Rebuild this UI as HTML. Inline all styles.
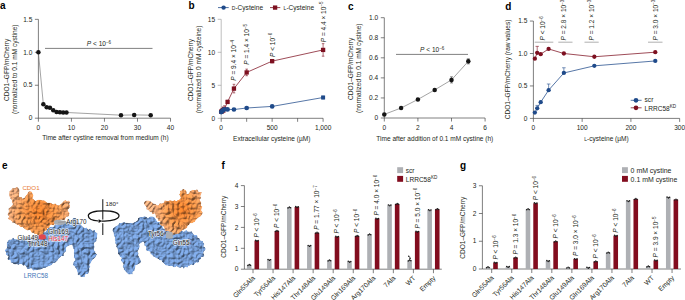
<!DOCTYPE html>
<html><head><meta charset="utf-8"><style>
html,body{margin:0;padding:0;background:#fff;}
svg{display:block;}
text{font-family:"Liberation Sans", sans-serif;}
</style></head><body>
<svg width="685" height="300" viewBox="0 0 685 300">
<rect width="685" height="300" fill="#fff"/>
<text x="0.00" y="9.20" font-size="10.0" text-anchor="start" fill="#000" font-weight="bold" >a</text>
<line x1="38.40" y1="19.35" x2="38.40" y2="118.20" stroke="#3a3a3a" stroke-width="0.65"/>
<line x1="34.90" y1="118.20" x2="38.40" y2="118.20" stroke="#3a3a3a" stroke-width="0.65"/>
<text x="32.30" y="120.40" font-size="6.55" text-anchor="end" fill="#231f20" font-weight="normal" >0</text>
<line x1="34.90" y1="85.25" x2="38.40" y2="85.25" stroke="#3a3a3a" stroke-width="0.65"/>
<text x="32.30" y="87.45" font-size="6.55" text-anchor="end" fill="#231f20" font-weight="normal" >0.5</text>
<line x1="34.90" y1="52.30" x2="38.40" y2="52.30" stroke="#3a3a3a" stroke-width="0.65"/>
<text x="32.30" y="54.50" font-size="6.55" text-anchor="end" fill="#231f20" font-weight="normal" >1.0</text>
<line x1="34.90" y1="19.35" x2="38.40" y2="19.35" stroke="#3a3a3a" stroke-width="0.65"/>
<text x="32.30" y="21.55" font-size="6.55" text-anchor="end" fill="#231f20" font-weight="normal" >1.5</text>
<line x1="38.40" y1="118.20" x2="170.52" y2="118.20" stroke="#3a3a3a" stroke-width="0.65"/>
<line x1="38.40" y1="118.20" x2="38.40" y2="121.70" stroke="#3a3a3a" stroke-width="0.65"/>
<text x="38.40" y="130.20" font-size="6.55" text-anchor="middle" fill="#231f20" font-weight="normal" >0</text>
<line x1="71.43" y1="118.20" x2="71.43" y2="121.70" stroke="#3a3a3a" stroke-width="0.65"/>
<text x="71.43" y="130.20" font-size="6.55" text-anchor="middle" fill="#231f20" font-weight="normal" >10</text>
<line x1="104.46" y1="118.20" x2="104.46" y2="121.70" stroke="#3a3a3a" stroke-width="0.65"/>
<text x="104.46" y="130.20" font-size="6.55" text-anchor="middle" fill="#231f20" font-weight="normal" >20</text>
<line x1="137.49" y1="118.20" x2="137.49" y2="121.70" stroke="#3a3a3a" stroke-width="0.65"/>
<text x="137.49" y="130.20" font-size="6.55" text-anchor="middle" fill="#231f20" font-weight="normal" >30</text>
<line x1="170.52" y1="118.20" x2="170.52" y2="121.70" stroke="#3a3a3a" stroke-width="0.65"/>
<text x="170.52" y="130.20" font-size="6.55" text-anchor="middle" fill="#231f20" font-weight="normal" >40</text>
<text x="105.40" y="140.40" font-size="6.55" text-anchor="middle" fill="#231f20" font-weight="normal" >Time after cystine removal from medium (h)</text>
<text transform="translate(8.60,69.90) rotate(-90)" font-size="6.55" text-anchor="middle" fill="#231f20" >CDO1&#8211;GFP/mCherry</text>
<text transform="translate(17.30,69.30) rotate(-90)" font-size="6.55" text-anchor="middle" fill="#231f20" >(normalized to 0.1 mM cystine)</text>
<polyline points="38.40,52.30 43.35,104.36 46.66,107.33 49.96,107.85 53.26,110.29 56.57,112.01 59.87,112.27 63.17,112.40 66.48,112.47 120.97,115.17 134.19,114.91 150.70,115.17" fill="none" stroke="#666" stroke-width="0.6"/>
<circle cx="38.40" cy="52.30" r="2.25" fill="#151515"/>
<circle cx="43.35" cy="104.36" r="2.25" fill="#151515"/>
<circle cx="46.66" cy="107.33" r="2.25" fill="#151515"/>
<circle cx="49.96" cy="107.85" r="2.25" fill="#151515"/>
<circle cx="53.26" cy="110.29" r="2.25" fill="#151515"/>
<circle cx="56.57" cy="112.01" r="2.25" fill="#151515"/>
<circle cx="59.87" cy="112.27" r="2.25" fill="#151515"/>
<circle cx="63.17" cy="112.40" r="2.25" fill="#151515"/>
<circle cx="66.48" cy="112.47" r="2.25" fill="#151515"/>
<circle cx="120.97" cy="115.17" r="2.25" fill="#151515"/>
<circle cx="134.19" cy="114.91" r="2.25" fill="#151515"/>
<circle cx="150.70" cy="115.17" r="2.25" fill="#151515"/>
<line x1="45.00" y1="48.40" x2="152.50" y2="48.40" stroke="#6a6a6a" stroke-width="0.85"/>
<text x="99.00" y="46.00" font-size="6.55" text-anchor="middle" fill="#231f20" font-weight="normal" ><tspan font-style="italic">P</tspan> &lt; 10<tspan font-size="4.5" dy="-2.3">&#8722;6</tspan></text>
<text x="188.60" y="9.00" font-size="10.0" text-anchor="start" fill="#000" font-weight="bold" >b</text>
<line x1="221.20" y1="19.30" x2="221.20" y2="118.30" stroke="#9a9a9a" stroke-width="0.65"/>
<line x1="217.70" y1="118.30" x2="221.20" y2="118.30" stroke="#9a9a9a" stroke-width="0.65"/>
<text x="215.10" y="120.50" font-size="6.55" text-anchor="end" fill="#231f20" font-weight="normal" >0</text>
<line x1="217.70" y1="85.30" x2="221.20" y2="85.30" stroke="#9a9a9a" stroke-width="0.65"/>
<text x="215.10" y="87.50" font-size="6.55" text-anchor="end" fill="#231f20" font-weight="normal" >5</text>
<line x1="217.70" y1="52.30" x2="221.20" y2="52.30" stroke="#9a9a9a" stroke-width="0.65"/>
<text x="215.10" y="54.50" font-size="6.55" text-anchor="end" fill="#231f20" font-weight="normal" >10</text>
<line x1="217.70" y1="19.30" x2="221.20" y2="19.30" stroke="#9a9a9a" stroke-width="0.65"/>
<text x="215.10" y="21.50" font-size="6.55" text-anchor="end" fill="#231f20" font-weight="normal" >15</text>
<line x1="221.20" y1="118.30" x2="323.10" y2="118.30" stroke="#3a3a3a" stroke-width="0.65"/>
<line x1="221.20" y1="118.30" x2="221.20" y2="121.80" stroke="#3a3a3a" stroke-width="0.65"/>
<text x="221.20" y="130.30" font-size="6.55" text-anchor="middle" fill="#231f20" font-weight="normal" >0</text>
<line x1="246.67" y1="118.30" x2="246.67" y2="121.80" stroke="#3a3a3a" stroke-width="0.65"/>
<line x1="272.15" y1="118.30" x2="272.15" y2="121.80" stroke="#3a3a3a" stroke-width="0.65"/>
<text x="272.15" y="130.30" font-size="6.55" text-anchor="middle" fill="#231f20" font-weight="normal" >500</text>
<line x1="297.62" y1="118.30" x2="297.62" y2="121.80" stroke="#3a3a3a" stroke-width="0.65"/>
<line x1="323.10" y1="118.30" x2="323.10" y2="121.80" stroke="#3a3a3a" stroke-width="0.65"/>
<text x="323.10" y="130.30" font-size="6.55" text-anchor="middle" fill="#231f20" font-weight="normal" >1,000</text>
<text x="271.70" y="140.60" font-size="6.55" text-anchor="middle" fill="#231f20" font-weight="normal" >Extracellular cysteine (&#181;M)</text>
<text transform="translate(193.40,70.00) rotate(-90)" font-size="6.55" text-anchor="middle" fill="#231f20" >CDO1&#8211;GFP/mCherry</text>
<text transform="translate(200.70,69.40) rotate(-90)" font-size="6.55" text-anchor="middle" fill="#231f20" >(normalized to 0 mM cysteine)</text>
<polyline points="221.20,111.70 221.99,111.04 222.79,110.05 224.38,109.06 227.57,101.93 233.94,88.60 246.67,72.43 272.15,61.14 323.10,49.92" fill="none" stroke="#7d1020" stroke-width="0.75"/>
<rect x="219.05" y="109.55" width="4.3" height="4.3" fill="#7d1020"/>
<rect x="219.84" y="108.89" width="4.3" height="4.3" fill="#7d1020"/>
<line x1="222.79" y1="107.08" x2="222.79" y2="113.02" stroke="#7d1020" stroke-width="0.6"/>
<line x1="221.49" y1="107.08" x2="224.09" y2="107.08" stroke="#7d1020" stroke-width="0.6"/>
<line x1="221.49" y1="113.02" x2="224.09" y2="113.02" stroke="#7d1020" stroke-width="0.6"/>
<rect x="220.64" y="107.90" width="4.3" height="4.3" fill="#7d1020"/>
<line x1="224.38" y1="105.76" x2="224.38" y2="112.36" stroke="#7d1020" stroke-width="0.6"/>
<line x1="223.08" y1="105.76" x2="225.68" y2="105.76" stroke="#7d1020" stroke-width="0.6"/>
<line x1="223.08" y1="112.36" x2="225.68" y2="112.36" stroke="#7d1020" stroke-width="0.6"/>
<rect x="222.23" y="106.91" width="4.3" height="4.3" fill="#7d1020"/>
<line x1="227.57" y1="100.28" x2="227.57" y2="103.58" stroke="#7d1020" stroke-width="0.6"/>
<line x1="226.27" y1="100.28" x2="228.87" y2="100.28" stroke="#7d1020" stroke-width="0.6"/>
<line x1="226.27" y1="103.58" x2="228.87" y2="103.58" stroke="#7d1020" stroke-width="0.6"/>
<rect x="225.42" y="99.78" width="4.3" height="4.3" fill="#7d1020"/>
<line x1="233.94" y1="84.31" x2="233.94" y2="92.89" stroke="#7d1020" stroke-width="0.6"/>
<line x1="232.64" y1="84.31" x2="235.24" y2="84.31" stroke="#7d1020" stroke-width="0.6"/>
<line x1="232.64" y1="92.89" x2="235.24" y2="92.89" stroke="#7d1020" stroke-width="0.6"/>
<rect x="231.79" y="86.45" width="4.3" height="4.3" fill="#7d1020"/>
<line x1="246.67" y1="69.13" x2="246.67" y2="75.73" stroke="#7d1020" stroke-width="0.6"/>
<line x1="245.37" y1="69.13" x2="247.97" y2="69.13" stroke="#7d1020" stroke-width="0.6"/>
<line x1="245.37" y1="75.73" x2="247.97" y2="75.73" stroke="#7d1020" stroke-width="0.6"/>
<rect x="244.52" y="70.28" width="4.3" height="4.3" fill="#7d1020"/>
<line x1="272.15" y1="59.49" x2="272.15" y2="62.79" stroke="#7d1020" stroke-width="0.6"/>
<line x1="270.85" y1="59.49" x2="273.45" y2="59.49" stroke="#7d1020" stroke-width="0.6"/>
<line x1="270.85" y1="62.79" x2="273.45" y2="62.79" stroke="#7d1020" stroke-width="0.6"/>
<rect x="270.00" y="58.99" width="4.3" height="4.3" fill="#7d1020"/>
<line x1="323.10" y1="43.65" x2="323.10" y2="56.19" stroke="#7d1020" stroke-width="0.6"/>
<line x1="321.80" y1="43.65" x2="324.40" y2="43.65" stroke="#7d1020" stroke-width="0.6"/>
<line x1="321.80" y1="56.19" x2="324.40" y2="56.19" stroke="#7d1020" stroke-width="0.6"/>
<rect x="320.95" y="47.77" width="4.3" height="4.3" fill="#7d1020"/>
<polyline points="221.20,112.03 221.99,111.37 222.79,110.38 224.38,109.39 227.57,109.39 233.94,109.52 246.67,108.00 272.15,106.42 323.10,97.51" fill="none" stroke="#1f4a8a" stroke-width="0.75"/>
<circle cx="221.20" cy="112.03" r="2.35" fill="#1f4a8a"/>
<circle cx="221.99" cy="111.37" r="2.35" fill="#1f4a8a"/>
<circle cx="222.79" cy="110.38" r="2.35" fill="#1f4a8a"/>
<circle cx="224.38" cy="109.39" r="2.35" fill="#1f4a8a"/>
<circle cx="227.57" cy="109.39" r="2.35" fill="#1f4a8a"/>
<circle cx="233.94" cy="109.52" r="2.35" fill="#1f4a8a"/>
<circle cx="246.67" cy="108.00" r="2.35" fill="#1f4a8a"/>
<circle cx="272.15" cy="106.42" r="2.35" fill="#1f4a8a"/>
<line x1="323.10" y1="96.19" x2="323.10" y2="98.83" stroke="#1f4a8a" stroke-width="0.6"/>
<line x1="321.80" y1="96.19" x2="324.40" y2="96.19" stroke="#1f4a8a" stroke-width="0.6"/>
<line x1="321.80" y1="98.83" x2="324.40" y2="98.83" stroke="#1f4a8a" stroke-width="0.6"/>
<rect x="321.10" y="95.51" width="4.0" height="4.0" fill="#1f4a8a"/>
<line x1="218.00" y1="7.60" x2="228.70" y2="7.60" stroke="#1f4a8a" stroke-width="0.8"/>
<circle cx="223.60" cy="7.60" r="2.2" fill="#1f4a8a"/>
<text x="231.80" y="9.90" font-size="6.55" text-anchor="start" fill="#231f20" font-weight="normal" ><tspan font-size="5">D</tspan>-Cysteine</text>
<line x1="270.00" y1="7.60" x2="280.30" y2="7.60" stroke="#7d1020" stroke-width="0.8"/>
<rect x="272.95" y="5.45" width="4.3" height="4.3" fill="#7d1020"/>
<text x="283.60" y="9.90" font-size="6.55" text-anchor="start" fill="#231f20" font-weight="normal" ><tspan font-size="5">L</tspan>-Cysteine</text>
<text transform="translate(235.90,80.80) rotate(-90)" font-size="6.55" text-anchor="start" fill="#231f20" ><tspan font-style="italic">P</tspan> = 9.4 &#215; 10<tspan font-size="4.5" dy="-2.3">&#8722;4</tspan></text>
<text transform="translate(249.00,64.80) rotate(-90)" font-size="6.55" text-anchor="start" fill="#231f20" ><tspan font-style="italic">P</tspan> = 1.4 &#215; 10<tspan font-size="4.5" dy="-2.3">&#8722;5</tspan></text>
<text transform="translate(274.50,57.00) rotate(-90)" font-size="6.55" text-anchor="start" fill="#231f20" ><tspan font-style="italic">P</tspan> &lt; 10<tspan font-size="4.5" dy="-2.3">&#8722;6</tspan></text>
<text transform="translate(325.60,42.30) rotate(-90)" font-size="6.55" text-anchor="start" fill="#231f20" ><tspan font-style="italic">P</tspan> = 4.4 &#215; 10<tspan font-size="4.5" dy="-2.3">&#8722;5</tspan></text>
<text x="348.10" y="9.70" font-size="10.0" text-anchor="start" fill="#000" font-weight="bold" >c</text>
<line x1="384.30" y1="17.70" x2="384.30" y2="118.00" stroke="#3a3a3a" stroke-width="0.65"/>
<line x1="380.80" y1="118.00" x2="384.30" y2="118.00" stroke="#3a3a3a" stroke-width="0.65"/>
<text x="378.20" y="120.20" font-size="6.55" text-anchor="end" fill="#231f20" font-weight="normal" >0</text>
<line x1="380.80" y1="97.94" x2="384.30" y2="97.94" stroke="#3a3a3a" stroke-width="0.65"/>
<text x="378.20" y="100.14" font-size="6.55" text-anchor="end" fill="#231f20" font-weight="normal" >0.2</text>
<line x1="380.80" y1="77.88" x2="384.30" y2="77.88" stroke="#3a3a3a" stroke-width="0.65"/>
<text x="378.20" y="80.08" font-size="6.55" text-anchor="end" fill="#231f20" font-weight="normal" >0.4</text>
<line x1="380.80" y1="57.82" x2="384.30" y2="57.82" stroke="#3a3a3a" stroke-width="0.65"/>
<text x="378.20" y="60.02" font-size="6.55" text-anchor="end" fill="#231f20" font-weight="normal" >0.6</text>
<line x1="380.80" y1="37.76" x2="384.30" y2="37.76" stroke="#3a3a3a" stroke-width="0.65"/>
<text x="378.20" y="39.96" font-size="6.55" text-anchor="end" fill="#231f20" font-weight="normal" >0.8</text>
<line x1="380.80" y1="17.70" x2="384.30" y2="17.70" stroke="#3a3a3a" stroke-width="0.65"/>
<text x="378.20" y="19.90" font-size="6.55" text-anchor="end" fill="#231f20" font-weight="normal" >1.0</text>
<line x1="384.30" y1="118.00" x2="485.10" y2="118.00" stroke="#3a3a3a" stroke-width="0.65"/>
<line x1="384.30" y1="118.00" x2="384.30" y2="121.50" stroke="#3a3a3a" stroke-width="0.65"/>
<text x="384.30" y="130.00" font-size="6.55" text-anchor="middle" fill="#231f20" font-weight="normal" >0</text>
<line x1="417.90" y1="118.00" x2="417.90" y2="121.50" stroke="#3a3a3a" stroke-width="0.65"/>
<text x="417.90" y="130.00" font-size="6.55" text-anchor="middle" fill="#231f20" font-weight="normal" >2</text>
<line x1="451.50" y1="118.00" x2="451.50" y2="121.50" stroke="#3a3a3a" stroke-width="0.65"/>
<text x="451.50" y="130.00" font-size="6.55" text-anchor="middle" fill="#231f20" font-weight="normal" >4</text>
<line x1="485.10" y1="118.00" x2="485.10" y2="121.50" stroke="#3a3a3a" stroke-width="0.65"/>
<text x="485.10" y="130.00" font-size="6.55" text-anchor="middle" fill="#231f20" font-weight="normal" >6</text>
<text x="434.80" y="140.60" font-size="6.55" text-anchor="middle" fill="#231f20" font-weight="normal" >Time after addition of 0.1 mM cystine (h)</text>
<text transform="translate(353.00,68.90) rotate(-90)" font-size="6.55" text-anchor="middle" fill="#231f20" >CDO1&#8211;GFP/mCherry</text>
<text transform="translate(360.80,68.30) rotate(-90)" font-size="6.55" text-anchor="middle" fill="#231f20" >(normalized to 0.1 mM cystine)</text>
<polyline points="384.30,114.39 401.10,107.97 417.90,99.44 434.70,89.92 451.50,79.89 468.30,61.33" fill="none" stroke="#666" stroke-width="0.6"/>
<line x1="451.50" y1="76.88" x2="451.50" y2="82.90" stroke="#333" stroke-width="0.6"/>
<line x1="450.00" y1="76.88" x2="453.00" y2="76.88" stroke="#333" stroke-width="0.6"/>
<line x1="450.00" y1="82.90" x2="453.00" y2="82.90" stroke="#333" stroke-width="0.6"/>
<line x1="468.30" y1="58.82" x2="468.30" y2="63.84" stroke="#333" stroke-width="0.6"/>
<line x1="466.80" y1="58.82" x2="469.80" y2="58.82" stroke="#333" stroke-width="0.6"/>
<line x1="466.80" y1="63.84" x2="469.80" y2="63.84" stroke="#333" stroke-width="0.6"/>
<circle cx="384.30" cy="114.39" r="2.25" fill="#151515"/>
<circle cx="401.10" cy="107.97" r="2.25" fill="#151515"/>
<circle cx="417.90" cy="99.44" r="2.25" fill="#151515"/>
<circle cx="434.70" cy="89.92" r="2.25" fill="#151515"/>
<circle cx="451.50" cy="79.89" r="2.25" fill="#151515"/>
<circle cx="468.30" cy="61.33" r="2.25" fill="#151515"/>
<line x1="396.00" y1="54.40" x2="468.00" y2="54.40" stroke="#6a6a6a" stroke-width="0.85"/>
<text x="432.20" y="52.00" font-size="6.55" text-anchor="middle" fill="#231f20" font-weight="normal" ><tspan font-style="italic">P</tspan> &lt; 10<tspan font-size="4.5" dy="-2.3">&#8722;6</tspan></text>
<text x="505.20" y="9.70" font-size="10.0" text-anchor="start" fill="#000" font-weight="bold" >d</text>
<line x1="533.40" y1="21.05" x2="533.40" y2="118.40" stroke="#3a3a3a" stroke-width="0.65"/>
<line x1="529.90" y1="118.40" x2="533.40" y2="118.40" stroke="#3a3a3a" stroke-width="0.65"/>
<text x="527.30" y="120.60" font-size="6.55" text-anchor="end" fill="#231f20" font-weight="normal" >0</text>
<line x1="529.90" y1="85.95" x2="533.40" y2="85.95" stroke="#3a3a3a" stroke-width="0.65"/>
<text x="527.30" y="88.15" font-size="6.55" text-anchor="end" fill="#231f20" font-weight="normal" >0.5</text>
<line x1="529.90" y1="53.50" x2="533.40" y2="53.50" stroke="#3a3a3a" stroke-width="0.65"/>
<text x="527.30" y="55.70" font-size="6.55" text-anchor="end" fill="#231f20" font-weight="normal" >1.0</text>
<line x1="529.90" y1="21.05" x2="533.40" y2="21.05" stroke="#3a3a3a" stroke-width="0.65"/>
<text x="527.30" y="23.25" font-size="6.55" text-anchor="end" fill="#231f20" font-weight="normal" >1.5</text>
<line x1="533.40" y1="118.40" x2="679.65" y2="118.40" stroke="#3a3a3a" stroke-width="0.65"/>
<line x1="533.40" y1="118.40" x2="533.40" y2="121.90" stroke="#3a3a3a" stroke-width="0.65"/>
<text x="533.40" y="130.40" font-size="6.55" text-anchor="middle" fill="#231f20" font-weight="normal" >0</text>
<line x1="582.15" y1="118.40" x2="582.15" y2="121.90" stroke="#3a3a3a" stroke-width="0.65"/>
<text x="582.15" y="130.40" font-size="6.55" text-anchor="middle" fill="#231f20" font-weight="normal" >100</text>
<line x1="630.90" y1="118.40" x2="630.90" y2="121.90" stroke="#3a3a3a" stroke-width="0.65"/>
<text x="630.90" y="130.40" font-size="6.55" text-anchor="middle" fill="#231f20" font-weight="normal" >200</text>
<line x1="679.65" y1="118.40" x2="679.65" y2="121.90" stroke="#3a3a3a" stroke-width="0.65"/>
<text x="679.65" y="130.40" font-size="6.55" text-anchor="middle" fill="#231f20" font-weight="normal" >300</text>
<text x="606.50" y="141.20" font-size="6.55" text-anchor="middle" fill="#231f20" font-weight="normal" ><tspan font-size="5">L</tspan>-cysteine (&#181;M)</text>
<text transform="translate(510.00,69.40) rotate(-90)" font-size="6.55" text-anchor="middle" fill="#231f20" >CDO1&#8211;GFP/mCherry (raw values)</text>
<polyline points="534.86,58.69 537.20,52.85 540.71,54.15 548.63,48.96 563.87,53.50 594.34,56.75 655.27,52.20" fill="none" stroke="#7d1020" stroke-width="0.75"/>
<line x1="537.20" y1="46.36" x2="537.20" y2="52.85" stroke="#7d1020" stroke-width="0.6"/>
<line x1="535.50" y1="46.36" x2="538.90" y2="46.36" stroke="#7d1020" stroke-width="0.6"/>
<line x1="535.50" y1="52.85" x2="538.90" y2="52.85" stroke="#7d1020" stroke-width="0.6"/>
<circle cx="534.86" cy="58.69" r="2.15" fill="#7d1020"/>
<circle cx="537.20" cy="52.85" r="2.15" fill="#7d1020"/>
<circle cx="540.71" cy="54.15" r="2.15" fill="#7d1020"/>
<circle cx="548.63" cy="48.96" r="2.15" fill="#7d1020"/>
<circle cx="563.87" cy="53.50" r="2.15" fill="#7d1020"/>
<circle cx="594.34" cy="56.75" r="2.15" fill="#7d1020"/>
<circle cx="655.27" cy="52.20" r="2.15" fill="#7d1020"/>
<polyline points="534.86,112.56 537.20,108.34 540.71,102.18 548.63,90.17 563.87,72.97 594.34,65.83 655.27,60.96" fill="none" stroke="#1f4a8a" stroke-width="0.75"/>
<line x1="537.20" y1="105.42" x2="537.20" y2="108.34" stroke="#1f4a8a" stroke-width="0.6"/>
<line x1="535.50" y1="105.42" x2="538.90" y2="105.42" stroke="#1f4a8a" stroke-width="0.6"/>
<line x1="535.50" y1="108.34" x2="538.90" y2="108.34" stroke="#1f4a8a" stroke-width="0.6"/>
<line x1="548.63" y1="84.00" x2="548.63" y2="90.17" stroke="#1f4a8a" stroke-width="0.6"/>
<line x1="546.83" y1="84.00" x2="550.43" y2="84.00" stroke="#1f4a8a" stroke-width="0.6"/>
<line x1="546.83" y1="90.17" x2="550.43" y2="90.17" stroke="#1f4a8a" stroke-width="0.6"/>
<line x1="563.87" y1="67.78" x2="563.87" y2="72.97" stroke="#1f4a8a" stroke-width="0.6"/>
<line x1="562.07" y1="67.78" x2="565.67" y2="67.78" stroke="#1f4a8a" stroke-width="0.6"/>
<line x1="562.07" y1="72.97" x2="565.67" y2="72.97" stroke="#1f4a8a" stroke-width="0.6"/>
<circle cx="534.86" cy="112.56" r="2.15" fill="#1f4a8a"/>
<circle cx="537.20" cy="108.34" r="2.15" fill="#1f4a8a"/>
<circle cx="540.71" cy="102.18" r="2.15" fill="#1f4a8a"/>
<circle cx="548.63" cy="90.17" r="2.15" fill="#1f4a8a"/>
<circle cx="563.87" cy="72.97" r="2.15" fill="#1f4a8a"/>
<circle cx="594.34" cy="65.83" r="2.15" fill="#1f4a8a"/>
<circle cx="655.27" cy="60.96" r="2.15" fill="#1f4a8a"/>
<line x1="534.70" y1="42.20" x2="553.30" y2="42.20" stroke="#9a9a9a" stroke-width="0.8"/>
<line x1="558.30" y1="42.20" x2="572.50" y2="42.20" stroke="#9a9a9a" stroke-width="0.8"/>
<line x1="584.50" y1="42.20" x2="598.70" y2="42.20" stroke="#9a9a9a" stroke-width="0.8"/>
<line x1="648.00" y1="42.20" x2="662.50" y2="42.20" stroke="#9a9a9a" stroke-width="0.8"/>
<text transform="translate(545.00,40.50) rotate(-90)" font-size="6.55" text-anchor="start" fill="#231f20" ><tspan font-style="italic">P</tspan> &lt; 10<tspan font-size="4.5" dy="-2.3">&#8722;6</tspan></text>
<text transform="translate(566.30,40.50) rotate(-90)" font-size="6.55" text-anchor="start" fill="#231f20" ><tspan font-style="italic">P</tspan> = 2.8 &#215; 10<tspan font-size="4.5" dy="-2.3">&#8722;3</tspan></text>
<text transform="translate(593.70,40.50) rotate(-90)" font-size="6.55" text-anchor="start" fill="#231f20" ><tspan font-style="italic">P</tspan> = 1.2 &#215; 10<tspan font-size="4.5" dy="-2.3">&#8722;3</tspan></text>
<text transform="translate(657.50,40.50) rotate(-90)" font-size="6.55" text-anchor="start" fill="#231f20" ><tspan font-style="italic">P</tspan> = 3.0 &#215; 10<tspan font-size="4.5" dy="-2.3">&#8722;3</tspan></text>
<line x1="630.70" y1="100.30" x2="641.60" y2="100.30" stroke="#1f4a8a" stroke-width="0.75"/>
<circle cx="636.00" cy="100.30" r="2.35" fill="#1f4a8a"/>
<text x="644.60" y="102.20" font-size="6.55" text-anchor="start" fill="#231f20" font-weight="normal" >scr</text>
<line x1="630.70" y1="107.80" x2="641.60" y2="107.80" stroke="#7d1020" stroke-width="0.75"/>
<circle cx="636.00" cy="107.80" r="2.35" fill="#7d1020"/>
<text x="644.60" y="110.60" font-size="6.55" text-anchor="start" fill="#231f20" font-weight="normal" >LRRC58<tspan font-size="4.6" dy="-2.6">KD</tspan></text>
<text x="2.10" y="169.20" font-size="10.0" text-anchor="start" fill="#000" font-weight="bold" >e</text>
<defs>
<filter id="texB" x="-5%" y="-5%" width="110%" height="110%" color-interpolation-filters="sRGB">
 <feTurbulence type="turbulence" baseFrequency="0.2" numOctaves="2" seed="4" result="n"/>
 <feDiffuseLighting in="n" surfaceScale="2.6" diffuseConstant="1.1" lighting-color="#ffffff" result="l"><feDistantLight azimuth="225" elevation="45"/></feDiffuseLighting>
 <feComposite in="SourceGraphic" in2="l" operator="arithmetic" k1="0.62" k2="0.48" k3="0" k4="0" result="c"/>
 <feComposite in="c" in2="SourceAlpha" operator="in"/>
</filter>
<filter id="texO" x="-5%" y="-5%" width="110%" height="110%" color-interpolation-filters="sRGB">
 <feTurbulence type="turbulence" baseFrequency="0.2" numOctaves="2" seed="9" result="n"/>
 <feDiffuseLighting in="n" surfaceScale="2.6" diffuseConstant="1.1" lighting-color="#ffffff" result="l"><feDistantLight azimuth="225" elevation="45"/></feDiffuseLighting>
 <feComposite in="SourceGraphic" in2="l" operator="arithmetic" k1="0.62" k2="0.48" k3="0" k4="0" result="c"/>
 <feComposite in="c" in2="SourceAlpha" operator="in"/>
</filter>
<radialGradient id="gOL" cx="40" cy="213" r="32" gradientUnits="userSpaceOnUse"><stop offset="0" stop-color="#f5802a"/><stop offset="0.55" stop-color="#f5984f"/><stop offset="1" stop-color="#f5b080"/></radialGradient>
<radialGradient id="gOR" cx="182" cy="210" r="28" gradientUnits="userSpaceOnUse"><stop offset="0" stop-color="#f5802a"/><stop offset="0.55" stop-color="#f5984f"/><stop offset="1" stop-color="#f5b080"/></radialGradient>
</defs>
<path d="M8.02,240.70 C8.44,240.17 8.81,239.70 9.38,239.50 C9.95,239.29 10.81,239.80 11.42,239.46 C12.03,239.13 12.53,237.57 13.07,237.49 C13.60,237.41 14.03,238.68 14.61,238.97 C15.19,239.26 15.96,239.20 16.55,239.24 C17.14,239.29 17.56,239.13 18.16,239.23 C18.75,239.32 19.53,239.92 20.14,239.81 C20.75,239.71 21.22,238.71 21.82,238.59 C22.42,238.46 23.17,239.26 23.74,239.08 C24.32,238.90 24.67,237.94 25.27,237.53 C25.88,237.11 26.70,236.69 27.37,236.59 C28.04,236.50 28.66,236.81 29.31,236.95 C29.96,237.09 30.69,237.64 31.27,237.45 C31.85,237.25 32.24,236.11 32.78,235.78 C33.32,235.45 33.90,235.48 34.51,235.47 C35.11,235.46 35.76,235.69 36.41,235.74 C37.06,235.80 37.87,236.03 38.40,235.80 C38.93,235.57 39.15,234.80 39.57,234.39 C39.99,233.97 40.35,233.45 40.91,233.32 C41.47,233.18 42.49,233.95 42.93,233.60 C43.36,233.26 43.00,231.58 43.50,231.25 C43.99,230.91 45.35,231.86 45.90,231.60 C46.44,231.33 46.40,230.18 46.77,229.65 C47.13,229.12 47.63,228.79 48.11,228.41 C48.58,228.02 49.05,227.63 49.61,227.34 C50.17,227.06 50.79,226.81 51.47,226.67 C52.14,226.54 53.10,226.92 53.66,226.54 C54.22,226.16 54.31,224.70 54.82,224.39 C55.33,224.07 56.11,224.68 56.71,224.66 C57.31,224.64 57.87,224.50 58.41,224.27 C58.96,224.03 59.35,223.40 59.97,223.25 C60.60,223.09 61.46,223.53 62.16,223.34 C62.86,223.16 63.50,222.40 64.15,222.14 C64.80,221.88 65.41,221.86 66.05,221.80 C66.69,221.74 67.30,221.68 68.00,221.75 C68.70,221.83 69.73,222.44 70.26,222.26 C70.78,222.07 70.82,221.14 71.15,220.65 C71.47,220.15 71.76,219.77 72.19,219.29 C72.62,218.81 73.09,217.90 73.74,217.76 C74.38,217.62 75.48,218.15 76.07,218.44 C76.67,218.73 77.07,219.01 77.31,219.50 C77.56,219.99 77.30,220.87 77.55,221.38 C77.80,221.89 78.31,222.26 78.82,222.58 C79.34,222.91 80.23,222.90 80.64,223.32 C81.05,223.73 80.95,224.57 81.26,225.07 C81.57,225.58 82.08,225.93 82.48,226.35 C82.88,226.77 83.21,227.33 83.66,227.59 C84.12,227.86 84.67,227.90 85.22,227.92 C85.78,227.94 86.54,227.42 87.01,227.71 C87.48,227.99 87.54,229.51 88.03,229.62 C88.53,229.74 89.44,228.43 89.99,228.39 C90.53,228.35 90.86,229.05 91.30,229.39 C91.73,229.74 92.01,230.37 92.58,230.47 C93.16,230.57 94.29,229.74 94.75,229.98 C95.22,230.22 94.97,231.43 95.38,231.92 C95.80,232.41 96.94,232.40 97.27,232.91 C97.60,233.42 97.41,234.37 97.37,234.96 C97.32,235.55 97.03,235.94 97.01,236.44 C96.98,236.95 97.29,237.54 97.22,237.98 C97.15,238.42 96.69,238.55 96.58,239.08 C96.46,239.62 96.79,240.67 96.51,241.21 C96.23,241.74 95.29,241.81 94.88,242.28 C94.46,242.75 94.12,243.49 94.01,244.02 C93.91,244.56 94.13,245.03 94.24,245.52 C94.35,246.02 94.71,246.48 94.69,246.99 C94.67,247.50 94.22,248.05 94.13,248.59 C94.03,249.13 93.92,249.73 94.14,250.22 C94.35,250.70 95.21,251.01 95.43,251.49 C95.64,251.96 95.17,252.61 95.43,253.08 C95.69,253.55 96.86,253.83 96.98,254.29 C97.10,254.74 96.39,255.31 96.14,255.82 C95.89,256.33 95.76,256.98 95.49,257.37 C95.21,257.76 94.96,257.78 94.51,258.15 C94.05,258.51 93.26,259.01 92.78,259.54 C92.29,260.08 91.95,260.75 91.60,261.36 C91.25,261.97 91.03,262.59 90.66,263.18 C90.29,263.78 89.41,264.37 89.37,264.95 C89.32,265.53 90.42,266.14 90.41,266.65 C90.40,267.16 89.44,267.49 89.31,268.01 C89.18,268.53 89.67,269.15 89.62,269.75 C89.56,270.35 89.21,270.96 88.96,271.64 C88.71,272.32 88.68,273.38 88.12,273.82 C87.57,274.27 86.20,273.80 85.62,274.32 C85.04,274.84 85.14,276.46 84.65,276.93 C84.17,277.39 83.39,277.06 82.70,277.09 C82.02,277.13 80.97,277.44 80.54,277.15 C80.11,276.86 80.61,275.69 80.14,275.34 C79.67,274.98 78.14,275.42 77.72,275.02 C77.31,274.61 77.76,273.57 77.66,272.89 C77.55,272.21 77.28,271.58 77.08,270.94 C76.88,270.30 76.76,269.57 76.46,269.03 C76.16,268.50 75.58,268.19 75.27,267.71 C74.96,267.24 75.02,266.64 74.60,266.17 C74.18,265.71 72.98,265.37 72.76,264.92 C72.55,264.47 73.18,263.97 73.30,263.47 C73.42,262.98 73.21,262.43 73.46,261.95 C73.70,261.48 74.48,261.09 74.76,260.62 C75.04,260.15 75.30,259.68 75.14,259.14 C74.97,258.60 73.96,257.90 73.78,257.39 C73.60,256.89 74.03,256.57 74.06,256.10 C74.09,255.63 74.00,255.09 73.94,254.58 C73.88,254.08 73.70,253.60 73.71,253.08 C73.71,252.57 73.91,252.02 73.97,251.50 C74.03,250.99 74.16,250.48 74.04,249.98 C73.93,249.49 73.47,248.94 73.26,248.54 C73.05,248.14 72.99,248.18 72.79,247.57 C72.58,246.95 72.47,245.25 72.02,244.86 C71.58,244.47 70.91,244.96 70.13,245.22 C69.36,245.49 68.04,246.03 67.37,246.46 C66.71,246.89 66.34,247.31 66.14,247.83 C65.93,248.35 66.16,249.01 66.14,249.59 C66.11,250.16 66.20,250.79 65.98,251.28 C65.75,251.77 65.19,252.09 64.81,252.51 C64.43,252.93 63.90,253.23 63.72,253.79 C63.53,254.35 64.09,255.50 63.72,255.88 C63.34,256.26 62.02,255.86 61.48,256.09 C60.94,256.32 60.85,256.93 60.46,257.27 C60.08,257.61 59.56,257.80 59.16,258.13 C58.77,258.46 58.38,258.79 58.09,259.25 C57.80,259.70 57.75,260.47 57.42,260.88 C57.08,261.30 56.47,261.37 56.08,261.74 C55.68,262.11 55.55,262.88 55.07,263.10 C54.58,263.32 53.74,262.73 53.18,263.06 C52.62,263.39 52.27,264.58 51.69,265.08 C51.11,265.59 50.38,265.78 49.69,266.07 C49.00,266.36 48.26,266.51 47.56,266.82 C46.86,267.13 46.13,267.74 45.47,267.95 C44.81,268.16 44.19,267.89 43.62,268.08 C43.04,268.27 42.56,268.83 42.00,269.10 C41.43,269.36 40.83,269.55 40.25,269.67 C39.67,269.79 39.07,269.70 38.51,269.81 C37.94,269.92 37.46,270.26 36.87,270.34 C36.27,270.41 35.58,270.23 34.94,270.27 C34.31,270.30 33.60,270.84 33.05,270.55 C32.50,270.26 32.20,268.83 31.66,268.52 C31.11,268.20 30.50,268.58 29.80,268.65 C29.10,268.73 28.00,269.12 27.47,268.96 C26.94,268.79 26.91,268.09 26.62,267.66 C26.34,267.22 26.04,266.76 25.77,266.37 C25.50,265.97 25.41,265.38 25.00,265.27 C24.59,265.17 23.87,265.90 23.31,265.73 C22.76,265.56 22.21,264.55 21.66,264.25 C21.11,263.95 20.55,263.82 19.99,263.94 C19.43,264.06 18.80,264.89 18.28,264.96 C17.75,265.04 17.36,264.44 16.83,264.37 C16.30,264.30 15.62,264.62 15.08,264.55 C14.55,264.49 14.09,264.23 13.64,263.96 C13.18,263.70 12.85,263.22 12.35,262.95 C11.85,262.69 10.92,262.80 10.63,262.39 C10.34,261.98 10.92,260.88 10.59,260.50 C10.25,260.12 9.14,260.39 8.60,260.12 C8.05,259.84 7.34,259.43 7.31,258.85 C7.29,258.27 8.48,257.21 8.44,256.64 C8.40,256.07 7.51,255.85 7.05,255.41 C6.60,254.98 5.85,254.55 5.71,254.04 C5.56,253.53 6.32,252.85 6.18,252.35 C6.05,251.85 4.98,251.52 4.87,251.01 C4.77,250.51 5.24,249.82 5.56,249.31 C5.87,248.80 6.53,248.44 6.74,247.95 C6.95,247.46 6.81,246.89 6.81,246.37 C6.82,245.86 6.74,245.49 6.75,244.87 C6.76,244.25 6.66,243.34 6.87,242.64 C7.08,241.95 7.60,241.22 8.02,240.70 Z" fill="#78a0d9" filter="url(#texB)"/>
<path d="M9.25,192.91 C9.30,192.17 9.17,191.53 9.47,191.03 C9.77,190.54 10.43,190.47 11.02,189.94 C11.61,189.41 12.42,188.15 13.01,187.86 C13.60,187.58 14.05,188.32 14.56,188.21 C15.06,188.09 15.55,187.33 16.06,187.16 C16.56,187.00 17.18,187.00 17.59,187.20 C18.00,187.41 18.18,187.93 18.50,188.37 C18.83,188.82 19.36,189.32 19.54,189.86 C19.71,190.41 19.58,191.05 19.55,191.65 C19.53,192.25 19.44,192.91 19.39,193.46 C19.34,194.01 19.24,194.39 19.26,194.96 C19.29,195.53 19.15,196.53 19.51,196.89 C19.88,197.24 20.98,196.79 21.48,197.06 C21.97,197.34 22.09,198.38 22.51,198.53 C22.92,198.69 23.59,198.13 23.95,197.97 C24.32,197.80 24.39,197.90 24.68,197.53 C24.97,197.17 25.28,196.32 25.68,195.78 C26.08,195.24 26.61,195.00 27.11,194.30 C27.61,193.59 27.98,191.99 28.68,191.53 C29.38,191.08 30.66,191.24 31.31,191.55 C31.96,191.87 32.23,192.77 32.59,193.43 C32.95,194.09 33.45,194.72 33.46,195.51 C33.46,196.30 32.56,197.53 32.65,198.18 C32.73,198.82 33.44,198.98 33.98,199.40 C34.52,199.83 35.25,200.64 35.87,200.70 C36.49,200.76 37.11,199.93 37.70,199.77 C38.29,199.60 38.84,199.68 39.41,199.71 C39.98,199.75 40.53,199.87 41.11,199.96 C41.68,200.05 42.28,200.15 42.87,200.26 C43.46,200.36 44.12,200.37 44.63,200.62 C45.14,200.88 45.50,201.44 45.95,201.78 C46.40,202.11 46.85,202.47 47.33,202.65 C47.80,202.83 48.25,202.84 48.78,202.85 C49.32,202.85 49.99,202.55 50.51,202.66 C51.03,202.77 51.42,203.22 51.90,203.49 C52.38,203.76 52.85,204.35 53.40,204.29 C53.94,204.23 54.64,203.11 55.15,203.15 C55.65,203.19 55.92,204.20 56.44,204.55 C56.97,204.90 57.60,205.34 58.28,205.27 C58.96,205.20 59.91,204.53 60.53,204.16 C61.15,203.78 61.55,203.45 62.00,203.00 C62.44,202.55 62.60,201.95 63.19,201.46 C63.77,200.97 64.86,200.09 65.50,200.06 C66.14,200.03 66.47,201.22 67.00,201.28 C67.53,201.34 68.17,200.29 68.69,200.42 C69.21,200.56 69.99,201.51 70.11,202.09 C70.23,202.68 69.41,203.27 69.42,203.93 C69.44,204.59 70.18,205.38 70.20,206.06 C70.22,206.75 69.94,207.39 69.54,208.06 C69.14,208.73 68.00,209.51 67.81,210.09 C67.62,210.67 68.10,211.02 68.40,211.54 C68.71,212.06 69.49,212.68 69.63,213.21 C69.76,213.74 69.39,214.20 69.21,214.74 C69.03,215.27 69.02,216.10 68.54,216.44 C68.07,216.77 66.84,216.49 66.37,216.74 C65.90,217.00 66.07,217.39 65.73,217.95 C65.38,218.52 64.96,219.82 64.32,220.13 C63.68,220.45 62.56,219.91 61.89,219.86 C61.23,219.80 60.84,219.66 60.34,219.80 C59.84,219.94 59.36,220.37 58.90,220.70 C58.44,221.03 58.09,221.58 57.59,221.78 C57.10,221.99 56.37,221.59 55.94,221.93 C55.50,222.26 55.37,223.25 54.97,223.82 C54.57,224.38 54.20,225.16 53.54,225.31 C52.87,225.46 51.61,224.55 50.98,224.72 C50.35,224.88 50.11,225.82 49.77,226.31 C49.44,226.79 49.36,227.30 48.96,227.63 C48.55,227.96 47.65,227.86 47.34,228.27 C47.03,228.68 47.49,229.64 47.09,230.09 C46.70,230.54 45.54,230.59 44.97,230.97 C44.41,231.36 44.08,231.87 43.71,232.42 C43.34,232.97 43.20,233.84 42.76,234.27 C42.32,234.70 41.61,234.84 41.08,234.99 C40.55,235.14 40.12,235.08 39.57,235.16 C39.02,235.24 38.27,235.64 37.77,235.46 C37.27,235.29 37.07,234.35 36.58,234.10 C36.08,233.84 35.31,234.13 34.78,233.93 C34.26,233.73 33.95,233.11 33.43,232.89 C32.91,232.68 32.24,233.13 31.66,232.65 C31.08,232.17 30.60,230.38 29.95,230.02 C29.29,229.66 28.39,230.54 27.71,230.48 C27.03,230.42 26.47,230.00 25.86,229.67 C25.26,229.35 24.64,228.95 24.07,228.50 C23.51,228.05 23.12,227.24 22.46,226.98 C21.80,226.71 20.74,227.20 20.13,226.89 C19.51,226.58 19.31,225.45 18.77,225.11 C18.23,224.77 17.44,225.06 16.90,224.85 C16.36,224.64 15.98,224.17 15.54,223.85 C15.10,223.52 14.79,223.08 14.26,222.90 C13.74,222.71 12.82,223.03 12.38,222.73 C11.94,222.43 12.05,221.53 11.62,221.09 C11.19,220.64 10.44,220.51 9.81,220.06 C9.18,219.61 7.95,218.98 7.82,218.38 C7.70,217.79 9.13,217.03 9.09,216.49 C9.04,215.95 7.76,215.64 7.56,215.12 C7.35,214.60 7.67,213.92 7.85,213.39 C8.03,212.86 8.52,212.44 8.64,211.92 C8.77,211.40 8.63,210.87 8.61,210.29 C8.60,209.71 8.28,208.96 8.55,208.45 C8.83,207.95 9.73,207.71 10.28,207.28 C10.82,206.84 11.40,206.37 11.81,205.83 C12.21,205.28 12.69,204.61 12.70,204.03 C12.72,203.45 12.05,203.02 11.90,202.35 C11.74,201.69 12.03,200.71 11.76,200.05 C11.48,199.39 10.67,199.14 10.23,198.39 C9.80,197.64 9.32,196.43 9.15,195.52 C8.99,194.61 9.20,193.66 9.25,192.91 Z" fill="url(#gOL)" filter="url(#texO)"/>
<path d="M112.59,229.59 C112.73,229.08 113.06,228.46 113.41,228.01 C113.76,227.56 114.24,227.22 114.69,226.89 C115.13,226.56 115.53,226.33 116.09,226.03 C116.65,225.73 117.51,225.58 118.06,225.09 C118.60,224.60 118.87,223.43 119.37,223.09 C119.87,222.75 120.52,223.13 121.05,223.02 C121.59,222.91 122.08,222.58 122.60,222.41 C123.13,222.24 123.68,221.96 124.19,222.02 C124.71,222.08 125.17,222.66 125.71,222.77 C126.24,222.89 126.87,222.63 127.42,222.71 C127.97,222.79 128.49,223.26 129.02,223.26 C129.54,223.27 130.02,222.76 130.59,222.76 C131.16,222.76 131.84,223.33 132.41,223.26 C132.99,223.18 133.47,222.63 134.04,222.32 C134.61,222.01 135.27,221.74 135.85,221.40 C136.43,221.07 137.13,220.86 137.53,220.31 C137.93,219.75 137.87,218.56 138.26,218.06 C138.65,217.56 139.47,217.49 139.88,217.28 C140.29,217.08 140.32,216.86 140.72,216.84 C141.12,216.82 141.71,217.24 142.28,217.15 C142.86,217.05 143.53,216.36 144.18,216.30 C144.83,216.23 145.55,216.50 146.18,216.77 C146.82,217.03 147.37,217.90 147.97,217.89 C148.57,217.87 149.08,216.90 149.79,216.67 C150.50,216.45 151.47,216.44 152.23,216.54 C153.00,216.63 153.80,216.79 154.38,217.24 C154.97,217.68 155.38,218.67 155.74,219.22 C156.11,219.77 156.29,220.10 156.57,220.54 C156.84,220.97 156.90,221.60 157.40,221.85 C157.89,222.10 159.15,221.70 159.52,222.05 C159.90,222.40 159.47,223.45 159.67,223.95 C159.88,224.45 160.29,224.79 160.76,225.04 C161.22,225.29 162.13,225.03 162.46,225.45 C162.78,225.88 162.49,227.04 162.71,227.59 C162.93,228.13 163.26,228.55 163.80,228.72 C164.34,228.88 165.56,228.24 165.96,228.57 C166.36,228.90 165.86,230.32 166.22,230.70 C166.58,231.07 167.53,230.61 168.10,230.83 C168.68,231.04 169.23,231.48 169.68,231.98 C170.13,232.48 170.28,233.39 170.83,233.84 C171.38,234.29 172.36,234.75 173.00,234.66 C173.64,234.58 174.11,233.46 174.67,233.32 C175.22,233.19 175.77,233.75 176.33,233.86 C176.89,233.98 177.55,234.21 178.02,234.02 C178.49,233.84 178.76,233.16 179.14,232.74 C179.52,232.32 179.82,231.86 180.30,231.51 C180.78,231.16 181.38,230.65 182.00,230.64 C182.62,230.63 183.30,231.54 184.00,231.44 C184.70,231.35 185.58,230.06 186.19,230.06 C186.80,230.06 187.12,231.19 187.65,231.44 C188.17,231.69 188.70,231.58 189.36,231.55 C190.01,231.51 191.05,231.03 191.58,231.23 C192.11,231.43 192.21,232.24 192.54,232.73 C192.86,233.23 193.11,233.82 193.52,234.20 C193.93,234.58 194.39,234.85 194.99,235.02 C195.59,235.20 196.64,234.78 197.12,235.25 C197.59,235.72 197.44,237.32 197.83,237.83 C198.23,238.34 199.11,237.91 199.51,238.30 C199.90,238.68 199.66,239.71 200.19,240.15 C200.72,240.59 202.14,240.48 202.68,240.93 C203.22,241.38 203.16,242.30 203.44,242.85 C203.73,243.40 204.37,243.65 204.37,244.21 C204.38,244.76 203.38,245.65 203.47,246.18 C203.56,246.70 204.56,246.86 204.94,247.35 C205.31,247.85 205.74,248.59 205.73,249.12 C205.73,249.65 205.24,250.07 204.90,250.53 C204.56,250.98 203.90,251.39 203.69,251.86 C203.47,252.34 203.50,252.82 203.62,253.40 C203.74,253.97 204.40,254.73 204.39,255.29 C204.38,255.85 204.07,256.44 203.56,256.75 C203.05,257.07 201.77,256.81 201.33,257.16 C200.89,257.52 201.22,258.47 200.91,258.89 C200.61,259.31 199.82,259.23 199.50,259.69 C199.18,260.15 199.30,261.14 199.01,261.64 C198.73,262.14 198.33,262.52 197.80,262.69 C197.27,262.86 196.37,262.46 195.83,262.66 C195.29,262.86 194.98,263.45 194.57,263.88 C194.16,264.32 193.96,265.17 193.38,265.26 C192.81,265.36 191.69,264.39 191.11,264.47 C190.53,264.55 190.38,265.50 189.91,265.74 C189.45,265.99 188.75,265.59 188.31,265.93 C187.87,266.27 187.77,267.64 187.26,267.79 C186.76,267.94 185.83,266.65 185.27,266.82 C184.72,267.00 184.36,268.81 183.91,268.86 C183.46,268.91 183.06,267.31 182.57,267.13 C182.09,266.95 181.51,267.67 180.99,267.79 C180.47,267.92 179.96,267.95 179.47,267.87 C178.97,267.79 178.49,267.57 178.02,267.30 C177.56,267.02 177.22,266.24 176.69,266.22 C176.17,266.19 175.45,267.01 174.89,267.15 C174.33,267.29 173.81,267.27 173.33,267.07 C172.85,266.87 172.51,266.10 172.01,265.95 C171.52,265.79 170.91,266.12 170.37,266.13 C169.84,266.14 169.32,266.11 168.81,266.01 C168.30,265.91 167.89,265.66 167.34,265.53 C166.78,265.40 165.94,265.46 165.46,265.22 C164.98,264.98 164.79,264.45 164.44,264.08 C164.09,263.71 163.75,263.33 163.37,263.00 C163.00,262.67 162.48,262.53 162.17,262.11 C161.86,261.69 161.91,260.78 161.51,260.48 C161.11,260.19 160.30,260.61 159.77,260.35 C159.24,260.09 158.91,259.24 158.33,258.90 C157.76,258.56 156.90,258.67 156.31,258.34 C155.72,258.01 155.33,257.26 154.80,256.93 C154.27,256.61 153.57,256.71 153.13,256.39 C152.69,256.06 152.60,255.33 152.18,254.98 C151.76,254.63 150.94,254.77 150.63,254.29 C150.31,253.82 150.62,252.63 150.29,252.13 C149.96,251.64 149.24,251.54 148.66,251.32 C148.08,251.10 147.30,251.14 146.82,250.79 C146.33,250.44 145.84,249.85 145.75,249.21 C145.66,248.57 146.48,247.56 146.25,246.94 C146.02,246.32 144.70,246.14 144.37,245.48 C144.04,244.81 144.55,243.58 144.26,242.96 C143.96,242.35 143.10,241.80 142.60,241.80 C142.10,241.79 141.80,242.58 141.26,242.96 C140.71,243.34 139.58,243.52 139.34,244.07 C139.10,244.63 139.84,245.59 139.81,246.29 C139.78,247.00 139.40,247.70 139.19,248.30 C138.97,248.90 138.79,249.37 138.53,249.90 C138.27,250.43 137.64,250.91 137.65,251.46 C137.66,252.01 138.50,252.58 138.60,253.20 C138.70,253.82 138.16,254.59 138.24,255.18 C138.31,255.78 138.79,256.24 139.04,256.77 C139.29,257.30 139.48,257.83 139.74,258.36 C139.99,258.89 140.38,259.36 140.59,259.96 C140.79,260.56 141.07,261.40 140.96,261.96 C140.84,262.52 140.32,262.95 139.90,263.29 C139.48,263.63 138.86,263.77 138.45,264.00 C138.04,264.22 137.93,264.43 137.43,264.65 C136.93,264.87 135.79,264.89 135.46,265.32 C135.12,265.74 135.55,266.67 135.45,267.19 C135.35,267.71 135.01,267.88 134.86,268.44 C134.71,269.01 134.93,269.93 134.56,270.57 C134.19,271.22 132.96,271.67 132.65,272.29 C132.34,272.91 132.96,273.95 132.67,274.28 C132.39,274.61 131.56,274.23 130.93,274.27 C130.31,274.31 129.50,274.67 128.93,274.54 C128.35,274.41 127.94,273.85 127.48,273.47 C127.01,273.09 126.56,272.69 126.14,272.26 C125.71,271.82 125.32,271.27 124.93,270.83 C124.53,270.39 123.96,270.10 123.75,269.62 C123.53,269.14 123.83,268.44 123.65,267.94 C123.47,267.45 122.73,267.17 122.69,266.64 C122.65,266.11 123.35,265.36 123.40,264.77 C123.45,264.18 123.27,263.62 122.99,263.09 C122.72,262.57 122.12,262.13 121.74,261.63 C121.36,261.13 120.74,260.71 120.73,260.10 C120.72,259.49 121.82,258.52 121.67,257.97 C121.52,257.42 120.22,257.26 119.82,256.78 C119.42,256.31 119.59,255.62 119.28,255.10 C118.98,254.59 118.19,254.26 117.99,253.70 C117.79,253.15 118.12,252.38 118.07,251.77 C118.03,251.16 117.86,250.62 117.72,250.05 C117.58,249.48 117.51,248.91 117.24,248.36 C116.97,247.82 116.25,247.38 116.11,246.80 C115.97,246.21 116.57,245.47 116.41,244.87 C116.24,244.26 115.30,243.79 115.12,243.19 C114.94,242.60 115.41,241.89 115.33,241.28 C115.26,240.67 114.75,240.14 114.69,239.53 C114.64,238.93 115.12,238.23 115.00,237.63 C114.89,237.04 114.21,236.49 114.00,235.95 C113.79,235.42 113.84,234.99 113.75,234.43 C113.65,233.86 113.65,233.14 113.45,232.58 C113.25,232.01 112.67,231.54 112.52,231.04 C112.38,230.54 112.44,230.09 112.59,229.59 Z" fill="#78a0d9" filter="url(#texB)"/>
<path d="M144.84,201.17 C145.28,200.80 146.12,200.71 146.71,200.61 C147.30,200.50 147.77,200.43 148.38,200.55 C148.98,200.67 149.73,201.03 150.36,201.33 C150.99,201.63 151.66,201.97 152.14,202.34 C152.61,202.72 152.72,203.33 153.21,203.57 C153.69,203.81 154.58,203.59 155.07,203.76 C155.55,203.92 155.56,204.30 156.11,204.56 C156.66,204.83 157.75,205.55 158.35,205.34 C158.94,205.12 159.06,203.60 159.69,203.27 C160.31,202.94 161.39,203.52 162.10,203.35 C162.81,203.18 163.53,202.75 163.96,202.24 C164.39,201.73 164.25,200.54 164.69,200.29 C165.13,200.05 166.01,200.67 166.60,200.77 C167.19,200.87 167.67,200.95 168.20,200.88 C168.73,200.81 169.28,200.41 169.80,200.35 C170.32,200.30 170.80,200.44 171.30,200.56 C171.81,200.67 172.27,201.13 172.84,201.04 C173.40,200.96 174.13,200.05 174.68,200.06 C175.23,200.08 175.68,201.12 176.13,201.14 C176.58,201.15 176.89,200.38 177.37,200.14 C177.86,199.90 178.52,200.05 179.04,199.70 C179.56,199.35 180.32,198.65 180.49,198.06 C180.67,197.47 180.31,196.75 180.09,196.15 C179.86,195.55 179.14,195.02 179.16,194.44 C179.19,193.86 180.07,193.26 180.21,192.68 C180.36,192.10 179.82,191.32 180.03,190.94 C180.24,190.56 180.98,190.73 181.49,190.41 C182.00,190.09 182.55,189.18 183.08,189.04 C183.61,188.89 184.16,189.25 184.69,189.55 C185.21,189.85 185.89,190.31 186.24,190.83 C186.59,191.36 186.69,192.17 186.79,192.71 C186.89,193.25 186.46,193.97 186.84,194.07 C187.21,194.17 188.61,193.74 189.06,193.31 C189.52,192.88 189.24,191.94 189.57,191.50 C189.90,191.05 190.59,190.95 191.04,190.66 C191.49,190.37 191.80,189.84 192.26,189.75 C192.72,189.66 193.28,190.08 193.81,190.12 C194.34,190.17 194.84,190.14 195.44,190.01 C196.03,189.89 196.87,189.13 197.37,189.38 C197.86,189.62 197.94,191.04 198.38,191.49 C198.82,191.93 199.45,191.91 200.02,192.03 C200.59,192.15 201.59,191.83 201.79,192.20 C202.00,192.57 201.45,193.56 201.23,194.23 C201.01,194.91 200.47,195.60 200.49,196.24 C200.51,196.88 201.48,197.53 201.35,198.06 C201.23,198.59 199.90,198.93 199.73,199.41 C199.57,199.89 200.13,200.47 200.37,200.94 C200.61,201.42 201.03,201.78 201.18,202.26 C201.34,202.73 201.34,203.26 201.29,203.80 C201.25,204.35 200.71,205.04 200.89,205.52 C201.07,206.00 202.26,206.17 202.38,206.71 C202.51,207.25 201.78,208.10 201.63,208.77 C201.47,209.45 201.28,210.13 201.46,210.75 C201.64,211.37 202.63,211.88 202.71,212.51 C202.79,213.13 202.27,213.87 201.96,214.51 C201.65,215.14 201.25,215.92 200.83,216.33 C200.40,216.74 199.85,216.72 199.39,216.96 C198.94,217.21 198.49,217.45 198.11,217.78 C197.74,218.12 197.49,218.62 197.13,218.97 C196.77,219.31 196.32,219.39 195.96,219.85 C195.59,220.32 195.38,221.31 194.93,221.76 C194.48,222.22 193.81,222.32 193.26,222.58 C192.70,222.83 192.18,223.13 191.61,223.28 C191.04,223.43 190.22,223.17 189.82,223.47 C189.42,223.78 189.55,224.74 189.20,225.10 C188.84,225.47 188.01,225.26 187.69,225.64 C187.37,226.03 187.58,226.90 187.29,227.39 C187.00,227.88 186.44,228.23 185.95,228.59 C185.47,228.95 184.95,229.29 184.39,229.56 C183.83,229.83 183.11,229.96 182.59,230.23 C182.08,230.49 181.72,230.84 181.30,231.16 C180.88,231.48 180.42,231.71 180.05,232.15 C179.69,232.60 179.54,233.54 179.09,233.81 C178.65,234.07 177.94,233.67 177.39,233.73 C176.85,233.80 176.35,234.06 175.82,234.20 C175.28,234.34 174.74,234.44 174.19,234.57 C173.63,234.69 172.99,235.19 172.49,234.95 C171.99,234.71 171.78,233.27 171.21,233.13 C170.65,232.98 169.50,234.27 169.11,234.06 C168.73,233.85 169.15,232.39 168.91,231.87 C168.67,231.34 168.26,231.02 167.66,230.93 C167.05,230.84 165.79,231.55 165.28,231.34 C164.78,231.13 164.81,230.21 164.64,229.65 C164.46,229.09 164.44,228.51 164.25,228.00 C164.07,227.50 163.95,226.94 163.53,226.62 C163.12,226.30 162.28,226.33 161.77,226.06 C161.26,225.79 160.84,225.41 160.49,225.01 C160.14,224.61 159.70,224.22 159.66,223.64 C159.62,223.06 160.49,222.02 160.24,221.55 C160.00,221.07 158.56,221.21 158.21,220.79 C157.86,220.36 158.46,219.47 158.13,219.00 C157.79,218.53 156.63,218.49 156.20,217.98 C155.78,217.47 155.82,216.67 155.57,215.94 C155.32,215.21 155.22,213.86 154.71,213.59 C154.21,213.33 153.04,214.53 152.54,214.33 C152.05,214.13 152.16,212.73 151.74,212.38 C151.32,212.03 150.45,212.43 150.03,212.21 C149.61,211.98 149.56,211.40 149.22,211.03 C148.87,210.66 148.45,210.28 147.96,209.99 C147.46,209.70 146.48,209.69 146.24,209.29 C145.99,208.89 146.62,208.14 146.49,207.59 C146.36,207.05 145.81,206.55 145.45,206.03 C145.08,205.51 144.54,205.01 144.31,204.48 C144.07,203.94 143.95,203.36 144.04,202.81 C144.13,202.26 144.39,201.53 144.84,201.17 Z" fill="url(#gOR)" filter="url(#texO)"/>

<g>
<path d="M54,221 q3,-2 6,-1 q3,1 5,0.5 l1.5,2.5 q-3,2 -6,2 q-4,0 -6.5,-1.5z" fill="#a9adb3"/>
<path d="M32,235.5 q3,-1.5 5.5,0 l0.8,3 q-3,1.5 -6,0.5z" fill="#a9adb3"/>
<path d="M38.5,235.5 q3.5,-2 7,-0.5 l0.5,3.5 q-3.5,2 -7,0.5z" fill="#e0474f"/>
<path d="M166,232 q3.5,-1 6.5,0.5 l0.5,5.5 q-3.5,1.5 -7,0z" fill="#a9adb3"/>
</g>
<g font-size="6.3" fill="none" stroke="#ffffff" stroke-width="1.3" stroke-opacity="0.75" stroke-linejoin="round">
<text x="66.3" y="223.9">Arg170</text>
<text x="48.3" y="234.2">Gln169</text>
<text x="48.3" y="240.6">His147</text>
<text x="17.6" y="239.7">Glu149</text>
<text x="27.6" y="245.8">Thr148</text>
<text x="148.0" y="235.7">Tyr56</text>
<text x="172.8" y="244.6">Gln55</text>
</g>
<g font-size="6.3" fill="#262626">
<text x="66.3" y="223.9">Arg170</text>
<text x="48.3" y="234.2">Gln169</text>
<text x="48.3" y="240.6" fill="#e8323c">His147</text>
<text x="17.6" y="239.7">Glu149</text>
<text x="27.6" y="245.8">Thr148</text>
<text x="148.0" y="235.7">Tyr56</text>
<text x="172.8" y="244.6">Gln55</text>
</g>
<line x1="58" y1="222.3" x2="66" y2="221.8" stroke="#888" stroke-width="0.6"/>
<text x="22.4" y="190.4" font-size="6.2" fill="#e87a30">CDO1</text>
<text x="23.8" y="277.8" font-size="6.3" fill="#3f76b8">LRRC58</text>
<text x="105.6" y="205.8" font-size="6.2" fill="#222">180&#176;</text>
<path d="M102.8,199.2 V219.6 M102.8,223.2 V235" stroke="#111" stroke-width="1.0" fill="none"/>
<path d="M98.5,221.0 C91,220.6 88.3,218.6 88.3,215.8 C88.3,212.7 95,210.8 103.7,210.8 C112.4,210.8 119,212.7 119,215.8 C119,219 112.5,221.1 104.5,221.1 L101.5,221.1" stroke="#111" stroke-width="1.25" fill="none"/>
<path d="M98.6,219.2 L102.0,221.1 L98.6,223.0 Z" fill="#111"/>

<circle cx="408.70" cy="256.24" r="0.72" fill="#1a1a1a"/>
<circle cx="410.20" cy="258.33" r="0.72" fill="#1a1a1a"/>
<circle cx="409.20" cy="261.68" r="0.72" fill="#1a1a1a"/>
<circle cx="410.70" cy="262.93" r="0.72" fill="#1a1a1a"/>
<line x1="409.60" y1="256.24" x2="409.60" y2="260.42" stroke="#1a1a1a" stroke-width="0.5"/>
<text x="221.40" y="168.80" font-size="10.0" text-anchor="start" fill="#000" font-weight="bold" >f</text>
<line x1="244.40" y1="185.60" x2="244.40" y2="269.20" stroke="#3a3a3a" stroke-width="0.65"/>
<line x1="240.90" y1="269.20" x2="244.40" y2="269.20" stroke="#3a3a3a" stroke-width="0.65"/>
<text x="238.30" y="271.40" font-size="6.55" text-anchor="end" fill="#231f20" font-weight="normal" >0</text>
<line x1="240.90" y1="248.30" x2="244.40" y2="248.30" stroke="#3a3a3a" stroke-width="0.65"/>
<text x="238.30" y="250.50" font-size="6.55" text-anchor="end" fill="#231f20" font-weight="normal" >1</text>
<line x1="240.90" y1="227.40" x2="244.40" y2="227.40" stroke="#3a3a3a" stroke-width="0.65"/>
<text x="238.30" y="229.60" font-size="6.55" text-anchor="end" fill="#231f20" font-weight="normal" >2</text>
<line x1="240.90" y1="206.50" x2="244.40" y2="206.50" stroke="#3a3a3a" stroke-width="0.65"/>
<text x="238.30" y="208.70" font-size="6.55" text-anchor="end" fill="#231f20" font-weight="normal" >3</text>
<line x1="240.90" y1="185.60" x2="244.40" y2="185.60" stroke="#3a3a3a" stroke-width="0.65"/>
<text x="238.30" y="187.80" font-size="6.55" text-anchor="end" fill="#231f20" font-weight="normal" >4</text>
<line x1="244.40" y1="269.20" x2="441.80" y2="269.20" stroke="#3a3a3a" stroke-width="0.65"/>
<line x1="253.00" y1="269.20" x2="253.00" y2="273.20" stroke="#3a3a3a" stroke-width="0.65"/>
<line x1="273.05" y1="269.20" x2="273.05" y2="273.20" stroke="#3a3a3a" stroke-width="0.65"/>
<line x1="293.10" y1="269.20" x2="293.10" y2="273.20" stroke="#3a3a3a" stroke-width="0.65"/>
<line x1="313.15" y1="269.20" x2="313.15" y2="273.20" stroke="#3a3a3a" stroke-width="0.65"/>
<line x1="333.20" y1="269.20" x2="333.20" y2="273.20" stroke="#3a3a3a" stroke-width="0.65"/>
<line x1="353.25" y1="269.20" x2="353.25" y2="273.20" stroke="#3a3a3a" stroke-width="0.65"/>
<line x1="373.30" y1="269.20" x2="373.30" y2="273.20" stroke="#3a3a3a" stroke-width="0.65"/>
<line x1="393.35" y1="269.20" x2="393.35" y2="273.20" stroke="#3a3a3a" stroke-width="0.65"/>
<line x1="413.40" y1="269.20" x2="413.40" y2="273.20" stroke="#3a3a3a" stroke-width="0.65"/>
<line x1="433.45" y1="269.20" x2="433.45" y2="273.20" stroke="#3a3a3a" stroke-width="0.65"/>
<rect x="246.90" y="265.02" width="4.6" height="4.18" fill="#aeb0b4"/>
<rect x="254.50" y="240.57" width="4.6" height="28.63" fill="#820c1e"/>
<line x1="247.60" y1="265.02" x2="250.80" y2="265.02" stroke="#1a1a1a" stroke-width="0.6"/>
<circle cx="247.90" cy="265.52" r="0.72" fill="#1a1a1a"/>
<circle cx="249.30" cy="264.52" r="0.72" fill="#1a1a1a"/>
<circle cx="250.50" cy="265.32" r="0.72" fill="#1a1a1a"/>
<line x1="255.20" y1="240.57" x2="258.40" y2="240.57" stroke="#1a1a1a" stroke-width="0.6"/>
<circle cx="255.60" cy="240.17" r="0.72" fill="#1a1a1a"/>
<circle cx="257.00" cy="241.17" r="0.72" fill="#1a1a1a"/>
<circle cx="258.20" cy="240.37" r="0.72" fill="#1a1a1a"/>
<text transform="translate(255.50,278.50) rotate(-45)" font-size="6.75" text-anchor="end" fill="#231f20">Gln55Ala</text>
<rect x="266.95" y="259.80" width="4.6" height="9.40" fill="#aeb0b4"/>
<rect x="274.55" y="230.95" width="4.6" height="38.25" fill="#820c1e"/>
<line x1="267.65" y1="259.80" x2="270.85" y2="259.80" stroke="#1a1a1a" stroke-width="0.6"/>
<circle cx="268.05" cy="259.40" r="0.72" fill="#1a1a1a"/>
<circle cx="269.45" cy="260.40" r="0.72" fill="#1a1a1a"/>
<circle cx="270.65" cy="259.60" r="0.72" fill="#1a1a1a"/>
<line x1="275.25" y1="230.95" x2="278.45" y2="230.95" stroke="#1a1a1a" stroke-width="0.6"/>
<circle cx="275.55" cy="231.45" r="0.72" fill="#1a1a1a"/>
<circle cx="276.95" cy="230.45" r="0.72" fill="#1a1a1a"/>
<circle cx="278.15" cy="231.25" r="0.72" fill="#1a1a1a"/>
<text transform="translate(275.55,278.50) rotate(-45)" font-size="6.75" text-anchor="end" fill="#231f20">Tyr56Ala</text>
<rect x="287.00" y="207.54" width="4.6" height="61.66" fill="#aeb0b4"/>
<rect x="294.60" y="206.92" width="4.6" height="62.28" fill="#820c1e"/>
<line x1="287.70" y1="207.54" x2="290.90" y2="207.54" stroke="#1a1a1a" stroke-width="0.6"/>
<circle cx="288.00" cy="208.04" r="0.72" fill="#1a1a1a"/>
<circle cx="289.40" cy="207.04" r="0.72" fill="#1a1a1a"/>
<circle cx="290.60" cy="207.84" r="0.72" fill="#1a1a1a"/>
<line x1="295.30" y1="206.92" x2="298.50" y2="206.92" stroke="#1a1a1a" stroke-width="0.6"/>
<circle cx="295.70" cy="206.52" r="0.72" fill="#1a1a1a"/>
<circle cx="297.10" cy="207.52" r="0.72" fill="#1a1a1a"/>
<circle cx="298.30" cy="206.72" r="0.72" fill="#1a1a1a"/>
<text transform="translate(295.60,278.50) rotate(-45)" font-size="6.75" text-anchor="end" fill="#231f20">His147Ala</text>
<rect x="307.05" y="245.79" width="4.6" height="23.41" fill="#aeb0b4"/>
<rect x="314.65" y="232.83" width="4.6" height="36.37" fill="#820c1e"/>
<line x1="307.75" y1="245.79" x2="310.95" y2="245.79" stroke="#1a1a1a" stroke-width="0.6"/>
<circle cx="308.15" cy="245.39" r="0.72" fill="#1a1a1a"/>
<circle cx="309.55" cy="246.39" r="0.72" fill="#1a1a1a"/>
<circle cx="310.75" cy="245.59" r="0.72" fill="#1a1a1a"/>
<line x1="315.35" y1="232.83" x2="318.55" y2="232.83" stroke="#1a1a1a" stroke-width="0.6"/>
<circle cx="315.65" cy="233.33" r="0.72" fill="#1a1a1a"/>
<circle cx="317.05" cy="232.33" r="0.72" fill="#1a1a1a"/>
<circle cx="318.25" cy="233.13" r="0.72" fill="#1a1a1a"/>
<text transform="translate(315.65,278.50) rotate(-45)" font-size="6.75" text-anchor="end" fill="#231f20">Thr148Ala</text>
<rect x="327.10" y="260.42" width="4.6" height="8.78" fill="#aeb0b4"/>
<rect x="334.70" y="236.60" width="4.6" height="32.60" fill="#820c1e"/>
<line x1="327.80" y1="260.42" x2="331.00" y2="260.42" stroke="#1a1a1a" stroke-width="0.6"/>
<circle cx="328.10" cy="260.92" r="0.72" fill="#1a1a1a"/>
<circle cx="329.50" cy="259.92" r="0.72" fill="#1a1a1a"/>
<circle cx="330.70" cy="260.72" r="0.72" fill="#1a1a1a"/>
<line x1="335.40" y1="236.60" x2="338.60" y2="236.60" stroke="#1a1a1a" stroke-width="0.6"/>
<circle cx="335.80" cy="236.20" r="0.72" fill="#1a1a1a"/>
<circle cx="337.20" cy="237.20" r="0.72" fill="#1a1a1a"/>
<circle cx="338.40" cy="236.40" r="0.72" fill="#1a1a1a"/>
<text transform="translate(335.70,278.50) rotate(-45)" font-size="6.75" text-anchor="end" fill="#231f20">Glu149Ala</text>
<rect x="347.15" y="261.68" width="4.6" height="7.52" fill="#aeb0b4"/>
<rect x="354.75" y="235.97" width="4.6" height="33.23" fill="#820c1e"/>
<line x1="347.85" y1="261.68" x2="351.05" y2="261.68" stroke="#1a1a1a" stroke-width="0.6"/>
<circle cx="348.25" cy="261.28" r="0.72" fill="#1a1a1a"/>
<circle cx="349.65" cy="262.28" r="0.72" fill="#1a1a1a"/>
<circle cx="350.85" cy="261.48" r="0.72" fill="#1a1a1a"/>
<line x1="355.45" y1="235.97" x2="358.65" y2="235.97" stroke="#1a1a1a" stroke-width="0.6"/>
<circle cx="355.75" cy="236.47" r="0.72" fill="#1a1a1a"/>
<circle cx="357.15" cy="235.47" r="0.72" fill="#1a1a1a"/>
<circle cx="358.35" cy="236.27" r="0.72" fill="#1a1a1a"/>
<text transform="translate(355.75,278.50) rotate(-45)" font-size="6.75" text-anchor="end" fill="#231f20">Gln169Ala</text>
<rect x="367.20" y="234.51" width="4.6" height="34.69" fill="#aeb0b4"/>
<rect x="374.80" y="218.62" width="4.6" height="50.58" fill="#820c1e"/>
<line x1="367.90" y1="234.51" x2="371.10" y2="234.51" stroke="#1a1a1a" stroke-width="0.6"/>
<circle cx="368.20" cy="235.01" r="0.72" fill="#1a1a1a"/>
<circle cx="369.60" cy="234.01" r="0.72" fill="#1a1a1a"/>
<circle cx="370.80" cy="234.81" r="0.72" fill="#1a1a1a"/>
<line x1="375.50" y1="218.62" x2="378.70" y2="218.62" stroke="#1a1a1a" stroke-width="0.6"/>
<circle cx="375.90" cy="218.22" r="0.72" fill="#1a1a1a"/>
<circle cx="377.30" cy="219.22" r="0.72" fill="#1a1a1a"/>
<circle cx="378.50" cy="218.42" r="0.72" fill="#1a1a1a"/>
<text transform="translate(375.80,278.50) rotate(-45)" font-size="6.75" text-anchor="end" fill="#231f20">Arg170Ala</text>
<rect x="387.25" y="205.25" width="4.6" height="63.95" fill="#aeb0b4"/>
<rect x="394.85" y="203.99" width="4.6" height="65.21" fill="#820c1e"/>
<line x1="387.95" y1="205.25" x2="391.15" y2="205.25" stroke="#1a1a1a" stroke-width="0.6"/>
<circle cx="388.35" cy="204.85" r="0.72" fill="#1a1a1a"/>
<circle cx="389.75" cy="205.85" r="0.72" fill="#1a1a1a"/>
<circle cx="390.95" cy="205.05" r="0.72" fill="#1a1a1a"/>
<line x1="395.55" y1="203.99" x2="398.75" y2="203.99" stroke="#1a1a1a" stroke-width="0.6"/>
<circle cx="395.85" cy="204.49" r="0.72" fill="#1a1a1a"/>
<circle cx="397.25" cy="203.49" r="0.72" fill="#1a1a1a"/>
<circle cx="398.45" cy="204.29" r="0.72" fill="#1a1a1a"/>
<text transform="translate(395.85,278.50) rotate(-45)" font-size="6.75" text-anchor="end" fill="#231f20">7Ala</text>
<rect x="407.30" y="260.42" width="4.6" height="8.78" fill="#aeb0b4"/>
<rect x="414.90" y="231.58" width="4.6" height="37.62" fill="#820c1e"/>
<line x1="408.00" y1="260.42" x2="411.20" y2="260.42" stroke="#1a1a1a" stroke-width="0.6"/>
<circle cx="408.30" cy="260.92" r="0.72" fill="#1a1a1a"/>
<circle cx="409.70" cy="259.92" r="0.72" fill="#1a1a1a"/>
<circle cx="410.90" cy="260.72" r="0.72" fill="#1a1a1a"/>
<line x1="415.60" y1="231.58" x2="418.80" y2="231.58" stroke="#1a1a1a" stroke-width="0.6"/>
<circle cx="416.00" cy="231.18" r="0.72" fill="#1a1a1a"/>
<circle cx="417.40" cy="232.18" r="0.72" fill="#1a1a1a"/>
<circle cx="418.60" cy="231.38" r="0.72" fill="#1a1a1a"/>
<text transform="translate(415.90,278.50) rotate(-45)" font-size="6.75" text-anchor="end" fill="#231f20">WT</text>
<rect x="427.35" y="210.05" width="4.6" height="59.15" fill="#aeb0b4"/>
<rect x="434.95" y="209.22" width="4.6" height="59.98" fill="#820c1e"/>
<line x1="428.05" y1="210.05" x2="431.25" y2="210.05" stroke="#1a1a1a" stroke-width="0.6"/>
<circle cx="428.45" cy="209.65" r="0.72" fill="#1a1a1a"/>
<circle cx="429.85" cy="210.65" r="0.72" fill="#1a1a1a"/>
<circle cx="431.05" cy="209.85" r="0.72" fill="#1a1a1a"/>
<line x1="435.65" y1="209.22" x2="438.85" y2="209.22" stroke="#1a1a1a" stroke-width="0.6"/>
<circle cx="435.95" cy="209.72" r="0.72" fill="#1a1a1a"/>
<circle cx="437.35" cy="208.72" r="0.72" fill="#1a1a1a"/>
<circle cx="438.55" cy="209.52" r="0.72" fill="#1a1a1a"/>
<text transform="translate(435.95,278.50) rotate(-45)" font-size="6.75" text-anchor="end" fill="#231f20">Empty</text>
<text transform="translate(259.10,237.57) rotate(-90)" font-size="6.55" text-anchor="start" fill="#231f20" ><tspan font-style="italic">P</tspan> &lt; 10<tspan font-size="4.5" dy="-2.3">&#8722;6</tspan></text>
<text transform="translate(279.15,227.95) rotate(-90)" font-size="6.55" text-anchor="start" fill="#231f20" ><tspan font-style="italic">P</tspan> &lt; 10<tspan font-size="4.5" dy="-2.3">&#8722;6</tspan></text>
<text transform="translate(319.25,229.83) rotate(-90)" font-size="6.55" text-anchor="start" fill="#231f20" ><tspan font-style="italic">P</tspan> = 1.77 &#215; 10<tspan font-size="4.5" dy="-2.3">&#8722;7</tspan></text>
<text transform="translate(339.30,233.60) rotate(-90)" font-size="6.55" text-anchor="start" fill="#231f20" ><tspan font-style="italic">P</tspan> &lt; 10<tspan font-size="4.5" dy="-2.3">&#8722;6</tspan></text>
<text transform="translate(359.35,232.97) rotate(-90)" font-size="6.55" text-anchor="start" fill="#231f20" ><tspan font-style="italic">P</tspan> &lt; 10<tspan font-size="4.5" dy="-2.3">&#8722;6</tspan></text>
<text transform="translate(379.40,215.62) rotate(-90)" font-size="6.55" text-anchor="start" fill="#231f20" ><tspan font-style="italic">P</tspan> = 4.0 &#215; 10<tspan font-size="4.5" dy="-2.3">&#8722;6</tspan></text>
<text transform="translate(419.50,228.58) rotate(-90)" font-size="6.55" text-anchor="start" fill="#231f20" ><tspan font-style="italic">P</tspan> = 5.0 &#215; 10<tspan font-size="4.5" dy="-2.3">&#8722;6</tspan></text>
<text transform="translate(226.40,226.70) rotate(-90)" font-size="6.55" text-anchor="middle" fill="#231f20" >CDO1&#8211;GFP/mCherry</text>
<rect x="397.2" y="167.2" width="5.9" height="5.9" fill="#aeb0b4"/>
<rect x="397.2" y="175.89999999999998" width="5.9" height="5.9" fill="#820c1e"/>
<text x="405.80" y="173.00" font-size="6.55" text-anchor="start" fill="#231f20" font-weight="normal" >scr</text>
<text x="405.80" y="181.70" font-size="6.55" text-anchor="start" fill="#231f20" font-weight="normal" >LRRC58<tspan font-size="4.6" dy="-2.6">KD</tspan></text>
<text x="460.00" y="169.20" font-size="10.0" text-anchor="start" fill="#000" font-weight="bold" >g</text>
<line x1="482.40" y1="185.75" x2="482.40" y2="269.00" stroke="#3a3a3a" stroke-width="0.65"/>
<line x1="478.90" y1="269.00" x2="482.40" y2="269.00" stroke="#3a3a3a" stroke-width="0.65"/>
<text x="476.30" y="271.20" font-size="6.55" text-anchor="end" fill="#231f20" font-weight="normal" >0</text>
<line x1="478.90" y1="241.25" x2="482.40" y2="241.25" stroke="#3a3a3a" stroke-width="0.65"/>
<text x="476.30" y="243.45" font-size="6.55" text-anchor="end" fill="#231f20" font-weight="normal" >1</text>
<line x1="478.90" y1="213.50" x2="482.40" y2="213.50" stroke="#3a3a3a" stroke-width="0.65"/>
<text x="476.30" y="215.70" font-size="6.55" text-anchor="end" fill="#231f20" font-weight="normal" >2</text>
<line x1="478.90" y1="185.75" x2="482.40" y2="185.75" stroke="#3a3a3a" stroke-width="0.65"/>
<text x="476.30" y="187.95" font-size="6.55" text-anchor="end" fill="#231f20" font-weight="normal" >3</text>
<line x1="482.40" y1="269.00" x2="681.00" y2="269.00" stroke="#3a3a3a" stroke-width="0.65"/>
<line x1="491.70" y1="269.00" x2="491.70" y2="273.00" stroke="#3a3a3a" stroke-width="0.65"/>
<line x1="511.74" y1="269.00" x2="511.74" y2="273.00" stroke="#3a3a3a" stroke-width="0.65"/>
<line x1="531.78" y1="269.00" x2="531.78" y2="273.00" stroke="#3a3a3a" stroke-width="0.65"/>
<line x1="551.82" y1="269.00" x2="551.82" y2="273.00" stroke="#3a3a3a" stroke-width="0.65"/>
<line x1="571.86" y1="269.00" x2="571.86" y2="273.00" stroke="#3a3a3a" stroke-width="0.65"/>
<line x1="591.90" y1="269.00" x2="591.90" y2="273.00" stroke="#3a3a3a" stroke-width="0.65"/>
<line x1="611.94" y1="269.00" x2="611.94" y2="273.00" stroke="#3a3a3a" stroke-width="0.65"/>
<line x1="631.98" y1="269.00" x2="631.98" y2="273.00" stroke="#3a3a3a" stroke-width="0.65"/>
<line x1="652.02" y1="269.00" x2="652.02" y2="273.00" stroke="#3a3a3a" stroke-width="0.65"/>
<line x1="672.06" y1="269.00" x2="672.06" y2="273.00" stroke="#3a3a3a" stroke-width="0.65"/>
<rect x="485.60" y="267.33" width="4.6" height="1.67" fill="#aeb0b4"/>
<rect x="493.20" y="262.62" width="4.6" height="6.38" fill="#820c1e"/>
<line x1="486.30" y1="267.33" x2="489.50" y2="267.33" stroke="#1a1a1a" stroke-width="0.6"/>
<circle cx="486.60" cy="267.83" r="0.72" fill="#1a1a1a"/>
<circle cx="488.00" cy="266.83" r="0.72" fill="#1a1a1a"/>
<circle cx="489.20" cy="267.63" r="0.72" fill="#1a1a1a"/>
<line x1="493.90" y1="262.62" x2="497.10" y2="262.62" stroke="#1a1a1a" stroke-width="0.6"/>
<circle cx="494.30" cy="262.22" r="0.72" fill="#1a1a1a"/>
<circle cx="495.70" cy="263.22" r="0.72" fill="#1a1a1a"/>
<circle cx="496.90" cy="262.42" r="0.72" fill="#1a1a1a"/>
<text transform="translate(494.20,278.30) rotate(-45)" font-size="6.75" text-anchor="end" fill="#231f20">Gln55Ala</text>
<rect x="505.64" y="266.78" width="4.6" height="2.22" fill="#aeb0b4"/>
<rect x="513.24" y="257.62" width="4.6" height="11.38" fill="#820c1e"/>
<line x1="506.34" y1="266.78" x2="509.54" y2="266.78" stroke="#1a1a1a" stroke-width="0.6"/>
<circle cx="506.74" cy="266.38" r="0.72" fill="#1a1a1a"/>
<circle cx="508.14" cy="267.38" r="0.72" fill="#1a1a1a"/>
<circle cx="509.34" cy="266.58" r="0.72" fill="#1a1a1a"/>
<line x1="513.94" y1="257.62" x2="517.14" y2="257.62" stroke="#1a1a1a" stroke-width="0.6"/>
<circle cx="514.24" cy="258.12" r="0.72" fill="#1a1a1a"/>
<circle cx="515.64" cy="257.12" r="0.72" fill="#1a1a1a"/>
<circle cx="516.84" cy="257.92" r="0.72" fill="#1a1a1a"/>
<text transform="translate(514.24,278.30) rotate(-45)" font-size="6.75" text-anchor="end" fill="#231f20">Tyr56Ala</text>
<rect x="525.68" y="209.34" width="4.6" height="59.66" fill="#aeb0b4"/>
<rect x="533.28" y="203.23" width="4.6" height="65.77" fill="#820c1e"/>
<line x1="526.38" y1="209.34" x2="529.58" y2="209.34" stroke="#1a1a1a" stroke-width="0.6"/>
<circle cx="526.68" cy="209.84" r="0.72" fill="#1a1a1a"/>
<circle cx="528.08" cy="208.84" r="0.72" fill="#1a1a1a"/>
<circle cx="529.28" cy="209.64" r="0.72" fill="#1a1a1a"/>
<line x1="533.98" y1="203.23" x2="537.18" y2="203.23" stroke="#1a1a1a" stroke-width="0.6"/>
<circle cx="534.38" cy="202.83" r="0.72" fill="#1a1a1a"/>
<circle cx="535.78" cy="203.83" r="0.72" fill="#1a1a1a"/>
<circle cx="536.98" cy="203.03" r="0.72" fill="#1a1a1a"/>
<text transform="translate(534.28,278.30) rotate(-45)" font-size="6.75" text-anchor="end" fill="#231f20">His147Ala</text>
<rect x="545.72" y="260.95" width="4.6" height="8.05" fill="#aeb0b4"/>
<rect x="553.32" y="241.53" width="4.6" height="27.47" fill="#820c1e"/>
<line x1="546.42" y1="260.95" x2="549.62" y2="260.95" stroke="#1a1a1a" stroke-width="0.6"/>
<circle cx="546.82" cy="260.55" r="0.72" fill="#1a1a1a"/>
<circle cx="548.22" cy="261.55" r="0.72" fill="#1a1a1a"/>
<circle cx="549.42" cy="260.75" r="0.72" fill="#1a1a1a"/>
<line x1="554.02" y1="241.53" x2="557.22" y2="241.53" stroke="#1a1a1a" stroke-width="0.6"/>
<circle cx="554.32" cy="242.03" r="0.72" fill="#1a1a1a"/>
<circle cx="555.72" cy="241.03" r="0.72" fill="#1a1a1a"/>
<circle cx="556.92" cy="241.83" r="0.72" fill="#1a1a1a"/>
<text transform="translate(554.32,278.30) rotate(-45)" font-size="6.75" text-anchor="end" fill="#231f20">Thr148Ala</text>
<rect x="565.76" y="267.61" width="4.6" height="1.39" fill="#aeb0b4"/>
<rect x="573.36" y="259.01" width="4.6" height="9.99" fill="#820c1e"/>
<line x1="566.46" y1="267.61" x2="569.66" y2="267.61" stroke="#1a1a1a" stroke-width="0.6"/>
<circle cx="566.76" cy="268.11" r="0.72" fill="#1a1a1a"/>
<circle cx="568.16" cy="267.11" r="0.72" fill="#1a1a1a"/>
<circle cx="569.36" cy="267.91" r="0.72" fill="#1a1a1a"/>
<line x1="574.06" y1="259.01" x2="577.26" y2="259.01" stroke="#1a1a1a" stroke-width="0.6"/>
<circle cx="574.46" cy="258.61" r="0.72" fill="#1a1a1a"/>
<circle cx="575.86" cy="259.61" r="0.72" fill="#1a1a1a"/>
<circle cx="577.06" cy="258.81" r="0.72" fill="#1a1a1a"/>
<text transform="translate(574.36,278.30) rotate(-45)" font-size="6.75" text-anchor="end" fill="#231f20">Glu149Ala</text>
<rect x="585.80" y="267.61" width="4.6" height="1.39" fill="#aeb0b4"/>
<rect x="593.40" y="261.51" width="4.6" height="7.49" fill="#820c1e"/>
<line x1="586.50" y1="267.61" x2="589.70" y2="267.61" stroke="#1a1a1a" stroke-width="0.6"/>
<circle cx="586.90" cy="267.21" r="0.72" fill="#1a1a1a"/>
<circle cx="588.30" cy="268.21" r="0.72" fill="#1a1a1a"/>
<circle cx="589.50" cy="267.41" r="0.72" fill="#1a1a1a"/>
<line x1="594.10" y1="261.51" x2="597.30" y2="261.51" stroke="#1a1a1a" stroke-width="0.6"/>
<circle cx="594.40" cy="262.01" r="0.72" fill="#1a1a1a"/>
<circle cx="595.80" cy="261.01" r="0.72" fill="#1a1a1a"/>
<circle cx="597.00" cy="261.81" r="0.72" fill="#1a1a1a"/>
<text transform="translate(594.40,278.30) rotate(-45)" font-size="6.75" text-anchor="end" fill="#231f20">Gln169Ala</text>
<rect x="605.84" y="252.63" width="4.6" height="16.37" fill="#aeb0b4"/>
<rect x="613.44" y="235.70" width="4.6" height="33.30" fill="#820c1e"/>
<line x1="606.54" y1="252.63" x2="609.74" y2="252.63" stroke="#1a1a1a" stroke-width="0.6"/>
<circle cx="606.84" cy="253.13" r="0.72" fill="#1a1a1a"/>
<circle cx="608.24" cy="252.13" r="0.72" fill="#1a1a1a"/>
<circle cx="609.44" cy="252.93" r="0.72" fill="#1a1a1a"/>
<line x1="614.14" y1="235.70" x2="617.34" y2="235.70" stroke="#1a1a1a" stroke-width="0.6"/>
<circle cx="614.54" cy="235.30" r="0.72" fill="#1a1a1a"/>
<circle cx="615.94" cy="236.30" r="0.72" fill="#1a1a1a"/>
<circle cx="617.14" cy="235.50" r="0.72" fill="#1a1a1a"/>
<text transform="translate(614.44,278.30) rotate(-45)" font-size="6.75" text-anchor="end" fill="#231f20">Arg170Ala</text>
<rect x="625.88" y="201.01" width="4.6" height="67.99" fill="#aeb0b4"/>
<rect x="633.48" y="199.07" width="4.6" height="69.93" fill="#820c1e"/>
<line x1="626.58" y1="201.01" x2="629.78" y2="201.01" stroke="#1a1a1a" stroke-width="0.6"/>
<circle cx="626.98" cy="200.61" r="0.72" fill="#1a1a1a"/>
<circle cx="628.38" cy="201.61" r="0.72" fill="#1a1a1a"/>
<circle cx="629.58" cy="200.81" r="0.72" fill="#1a1a1a"/>
<line x1="634.18" y1="199.07" x2="637.38" y2="199.07" stroke="#1a1a1a" stroke-width="0.6"/>
<circle cx="634.48" cy="199.57" r="0.72" fill="#1a1a1a"/>
<circle cx="635.88" cy="198.57" r="0.72" fill="#1a1a1a"/>
<circle cx="637.08" cy="199.37" r="0.72" fill="#1a1a1a"/>
<text transform="translate(634.48,278.30) rotate(-45)" font-size="6.75" text-anchor="end" fill="#231f20">7Ala</text>
<rect x="645.92" y="266.50" width="4.6" height="2.50" fill="#aeb0b4"/>
<rect x="653.52" y="260.40" width="4.6" height="8.60" fill="#820c1e"/>
<line x1="646.62" y1="266.50" x2="649.82" y2="266.50" stroke="#1a1a1a" stroke-width="0.6"/>
<circle cx="646.92" cy="267.00" r="0.72" fill="#1a1a1a"/>
<circle cx="648.32" cy="266.00" r="0.72" fill="#1a1a1a"/>
<circle cx="649.52" cy="266.80" r="0.72" fill="#1a1a1a"/>
<line x1="654.22" y1="260.40" x2="657.42" y2="260.40" stroke="#1a1a1a" stroke-width="0.6"/>
<circle cx="654.62" cy="260.00" r="0.72" fill="#1a1a1a"/>
<circle cx="656.02" cy="261.00" r="0.72" fill="#1a1a1a"/>
<circle cx="657.22" cy="260.20" r="0.72" fill="#1a1a1a"/>
<text transform="translate(654.52,278.30) rotate(-45)" font-size="6.75" text-anchor="end" fill="#231f20">WT</text>
<rect x="665.96" y="197.41" width="4.6" height="71.59" fill="#aeb0b4"/>
<rect x="673.56" y="199.62" width="4.6" height="69.38" fill="#820c1e"/>
<line x1="666.66" y1="197.41" x2="669.86" y2="197.41" stroke="#1a1a1a" stroke-width="0.6"/>
<circle cx="667.06" cy="197.00" r="0.72" fill="#1a1a1a"/>
<circle cx="668.46" cy="198.00" r="0.72" fill="#1a1a1a"/>
<circle cx="669.66" cy="197.21" r="0.72" fill="#1a1a1a"/>
<line x1="674.26" y1="199.62" x2="677.46" y2="199.62" stroke="#1a1a1a" stroke-width="0.6"/>
<circle cx="674.56" cy="200.12" r="0.72" fill="#1a1a1a"/>
<circle cx="675.96" cy="199.12" r="0.72" fill="#1a1a1a"/>
<circle cx="677.16" cy="199.93" r="0.72" fill="#1a1a1a"/>
<text transform="translate(674.56,278.30) rotate(-45)" font-size="6.75" text-anchor="end" fill="#231f20">Empty</text>
<text transform="translate(497.80,259.62) rotate(-90)" font-size="6.55" text-anchor="start" fill="#231f20" ><tspan font-style="italic">P</tspan> &lt; 10<tspan font-size="4.5" dy="-2.3">&#8722;6</tspan></text>
<text transform="translate(517.84,254.62) rotate(-90)" font-size="6.55" text-anchor="start" fill="#231f20" ><tspan font-style="italic">P</tspan> = 1.3 &#215; 10<tspan font-size="4.5" dy="-2.3">&#8722;6</tspan></text>
<text transform="translate(537.88,200.23) rotate(-90)" font-size="6.55" text-anchor="start" fill="#231f20" ><tspan font-style="italic">P</tspan> &lt; 10<tspan font-size="4.5" dy="-2.3">&#8722;6</tspan></text>
<text transform="translate(557.92,238.53) rotate(-90)" font-size="6.55" text-anchor="start" fill="#231f20" ><tspan font-style="italic">P</tspan> &lt; 10<tspan font-size="4.5" dy="-2.3">&#8722;6</tspan></text>
<text transform="translate(577.96,256.01) rotate(-90)" font-size="6.55" text-anchor="start" fill="#231f20" ><tspan font-style="italic">P</tspan> = 3.0 &#215; 10<tspan font-size="4.5" dy="-2.3">&#8722;6</tspan></text>
<text transform="translate(598.00,258.51) rotate(-90)" font-size="6.55" text-anchor="start" fill="#231f20" ><tspan font-style="italic">P</tspan> &lt; 10<tspan font-size="4.5" dy="-2.3">&#8722;6</tspan></text>
<text transform="translate(618.04,232.70) rotate(-90)" font-size="6.55" text-anchor="start" fill="#231f20" ><tspan font-style="italic">P</tspan> &lt; 10<tspan font-size="4.5" dy="-2.3">&#8722;6</tspan></text>
<text transform="translate(658.12,257.40) rotate(-90)" font-size="6.55" text-anchor="start" fill="#231f20" ><tspan font-style="italic">P</tspan> = 3.9 &#215; 10<tspan font-size="4.5" dy="-2.3">&#8722;5</tspan></text>
<text transform="translate(464.80,227.70) rotate(-90)" font-size="6.55" text-anchor="middle" fill="#231f20" >CDO1&#8211;GFP/mCherry</text>
<rect x="622.0" y="167.2" width="5.9" height="5.9" fill="#aeb0b4"/>
<rect x="622.0" y="175.89999999999998" width="5.9" height="5.9" fill="#820c1e"/>
<text x="630.60" y="173.00" font-size="6.95" text-anchor="start" fill="#231f20" font-weight="normal" >0 mM cystine</text>
<text x="630.60" y="181.70" font-size="6.95" text-anchor="start" fill="#231f20" font-weight="normal" >0.1 mM cystine</text>
</svg></body></html>
